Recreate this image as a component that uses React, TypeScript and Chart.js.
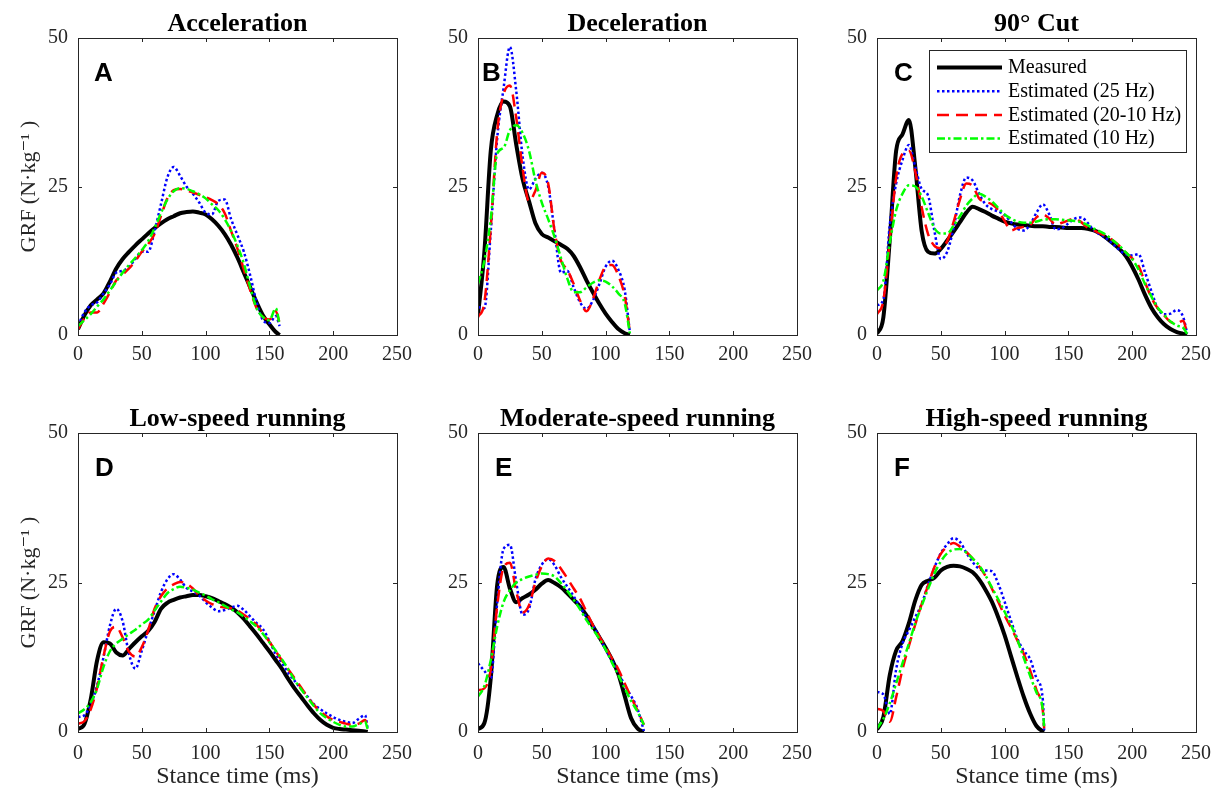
import React, { useEffect, useRef } from "react";
import { Chart, registerables } from "chart.js";

Chart.register(...registerables);

const SERIF = "'Liberation Serif', 'Times New Roman', 'DejaVu Serif', serif";
const SANS = "'Liberation Sans', Arial, sans-serif";
const AXIS = "#262626";

// ---------- Data (stance time in ms, GRF in N/kg) ----------
// A - Acceleration
const timeA = [0, 5, 10, 15, 20, 25, 30, 35, 40, 45, 50, 55, 60, 65, 70, 75, 80, 85, 90, 95, 100, 105, 110, 115, 120, 125, 130, 135, 140, 145, 150, 155, 158];
const measuredA = [1.0, 3.3, 5.0, 6.0, 7.0, 9.0, 11.2, 12.8, 14.0, 15.1, 16.1, 17.1, 18.0, 18.8, 19.5, 20.0, 20.5, 20.7, 20.8, 20.6, 20.3, 19.5, 18.4, 17.0, 15.2, 13.0, 10.5, 8.0, 5.5, 3.3, 1.8, 0.5, 0];
const est25A = [1.6, 3.8, 5.0, 5.5, 7.0, 8.5, 10.5, 10.8, 11.5, 12.8, 14.0, 14.0, 17.5, 22.0, 26.5, 28.3, 26.8, 25.0, 23.8, 22.3, 20.6, 20.3, 22.6, 22.8, 19.5, 16.8, 14.0, 10.0, 5.5, 2.5, 2.0, 3.2, 1.5];
const est2010A = [1.0, 2.8, 3.8, 3.8, 5.3, 7.2, 9.2, 10.2, 11.2, 12.5, 14.0, 15.3, 17.0, 20.0, 23.0, 24.4, 24.6, 24.3, 24.0, 23.6, 23.2, 22.7, 22.0, 20.5, 17.5, 14.5, 11.0, 7.5, 4.5, 3.0, 2.6, 4.0, 2.0];
const est10A = [1.5, 2.5, 3.5, 4.8, 6.0, 7.5, 9.0, 10.5, 11.8, 13.0, 14.3, 15.8, 18.0, 20.5, 22.8, 24.2, 24.7, 24.6, 24.2, 23.7, 23.0, 22.0, 21.0, 19.5, 17.5, 15.0, 12.0, 8.0, 4.5, 3.0, 2.5, 4.5, 1.8];

// B - Deceleration
const timeB = [0, 5, 10, 15, 20, 25, 30, 35, 40, 45, 50, 55, 60, 65, 70, 75, 80, 85, 90, 95, 100, 105, 110, 115, 119];
const measuredB = [3.3, 14.0, 31.0, 37.0, 39.3, 38.5, 32.0, 26.2, 22.5, 18.8, 17.0, 16.4, 15.8, 15.2, 14.5, 13.3, 11.4, 9.2, 7.2, 5.3, 3.6, 2.2, 1.0, 0.3, 0];
const est25B = [4.7, 4.5, 17.5, 33.0, 41.5, 48.5, 41.0, 30.0, 24.5, 26.3, 27.3, 25.0, 17.5, 10.5, 10.8, 8.0, 5.5, 4.4, 5.8, 8.5, 11.5, 12.5, 11.0, 7.5, 0.5];
const est2010B = [3.0, 5.5, 18.0, 34.0, 40.5, 42.0, 36.5, 28.0, 22.5, 24.3, 27.3, 25.5, 17.5, 12.5, 11.0, 8.6, 5.8, 4.0, 6.0, 9.2, 11.5, 11.8, 10.0, 6.5, 0.5];
const est10B = [8.6, 12.5, 19.5, 30.5, 31.5, 34.5, 35.3, 34.0, 31.0, 26.0, 22.3, 19.5, 16.5, 13.0, 9.5, 7.2, 7.2, 8.0, 8.8, 9.2, 9.0, 8.2, 7.0, 5.3, 0.3];

// C - 90° Cut
const timeC = [0, 5, 10, 15, 20, 25, 30, 35, 40, 45, 50, 55, 60, 65, 70, 75, 80, 85, 90, 95, 100, 105, 110, 115, 120, 125, 130, 135, 140, 145, 150, 155, 160, 165, 170, 175, 180, 185, 190, 195, 200, 205, 210, 215, 220, 225, 230, 235, 240, 243];
const measuredC = [0.2, 3.0, 16.0, 31.0, 33.8, 36.2, 28.3, 17.5, 14.0, 13.7, 14.5, 15.9, 17.4, 19.0, 20.6, 21.6, 21.2, 20.7, 20.1, 19.6, 19.1, 18.8, 18.6, 18.5, 18.4, 18.3, 18.3, 18.2, 18.2, 18.1, 18.0, 18.0, 18.0, 17.9, 17.6, 17.1, 16.3, 15.4, 14.5, 13.3, 11.5, 9.3, 6.8, 4.6, 3.0, 1.8, 1.0, 0.5, 0.2, 0];
const est25C = [5.0, 6.0, 18.5, 25.5, 29.5, 32.0, 28.3, 24.6, 23.5, 17.5, 12.8, 14.0, 18.0, 23.5, 26.5, 26.0, 23.8, 22.0, 21.2, 20.8, 20.2, 19.0, 17.9, 17.6, 18.6, 20.6, 22.0, 20.3, 17.8, 18.0, 18.8, 19.6, 19.8, 18.9, 17.6, 16.9, 16.2, 15.3, 14.3, 13.6, 13.4, 13.6, 10.6, 7.4, 4.5, 3.5, 3.6, 4.2, 3.0, 0.3];
const est2010C = [3.5, 5.8, 16.0, 26.5, 30.5, 31.0, 27.5, 21.5, 17.0, 15.0, 14.6, 15.8, 19.0, 22.8, 25.5, 25.1, 23.0, 22.4, 22.0, 21.0, 19.2, 17.6, 18.0, 18.2, 18.5, 19.8, 20.3, 19.6, 18.6, 18.9, 19.3, 19.6, 19.0, 18.1, 17.6, 17.1, 16.6, 15.9, 15.0, 13.9, 12.9, 11.6, 8.9, 6.3, 4.5, 3.3, 2.2, 2.0, 2.4, 0.3];
const est10C = [7.5, 9.1, 15.5, 21.0, 23.8, 25.2, 25.0, 23.3, 20.6, 18.0, 17.1, 17.1, 18.4, 20.0, 21.8, 23.0, 23.8, 23.3, 22.5, 21.4, 20.3, 19.6, 19.1, 18.9, 18.9, 19.1, 19.4, 19.5, 19.5, 19.4, 19.3, 19.2, 19.0, 18.5, 17.9, 17.4, 16.8, 15.9, 15.0, 13.9, 12.8, 11.0, 8.6, 6.5, 4.6, 3.4, 2.3, 1.6, 1.2, 0.2];

// D - Low-speed running
const timeD = [0, 5, 10, 15, 20, 25, 30, 35, 40, 45, 50, 55, 60, 65, 70, 75, 80, 85, 90, 95, 100, 105, 110, 115, 120, 125, 130, 135, 140, 145, 150, 155, 160, 165, 170, 175, 180, 185, 190, 195, 200, 205, 210, 215, 220, 225, 227];
const measuredD = [0.5, 1.3, 5.5, 12.0, 15.0, 14.8, 13.3, 12.8, 13.9, 15.0, 16.0, 16.9, 18.4, 20.6, 21.6, 22.1, 22.5, 22.7, 22.9, 22.9, 22.7, 22.4, 21.9, 21.4, 20.8, 20.0, 18.9, 17.6, 16.3, 14.9, 13.5, 12.0, 10.5, 8.8, 7.2, 5.8, 4.4, 3.1, 2.0, 1.2, 0.7, 0.5, 0.4, 0.3, 0.2, 0.1, 0];
const est25D = [2.5, 2.8, 4.6, 7.8, 12.5, 17.8, 20.6, 18.5, 13.0, 10.6, 13.6, 17.0, 20.2, 23.4, 25.5, 26.4, 25.5, 24.1, 23.5, 22.8, 21.7, 20.8, 20.2, 20.4, 20.8, 21.1, 20.4, 19.3, 18.2, 17.2, 15.2, 13.0, 11.5, 9.8, 8.5, 7.2, 5.9, 4.6, 3.8, 3.1, 2.5, 2.0, 1.7, 1.5, 2.2, 2.8, 0.5];
const est2010D = [1.4, 1.8, 3.8, 7.5, 12.7, 16.8, 17.6, 15.8, 13.4, 12.6, 14.2, 17.0, 20.6, 22.7, 24.0, 24.7, 25.1, 24.8, 24.0, 22.8, 22.0, 21.4, 21.0, 20.8, 20.7, 20.3, 19.6, 18.8, 17.9, 16.5, 15.1, 13.5, 11.9, 10.4, 8.9, 7.4, 5.8, 4.5, 3.4, 2.6, 2.0, 1.7, 1.4, 1.2, 1.4, 2.0, 0.5];
const est10D = [3.1, 3.8, 5.0, 7.3, 10.9, 13.5, 14.8, 15.6, 16.4, 17.1, 18.0, 18.8, 20.3, 21.8, 23.2, 23.9, 24.3, 24.1, 23.8, 23.3, 22.8, 22.2, 21.7, 21.1, 20.5, 20.0, 19.3, 18.5, 17.6, 16.4, 15.0, 13.6, 12.1, 10.4, 8.6, 7.1, 5.7, 4.3, 3.1, 2.3, 1.7, 1.2, 0.9, 0.9, 1.3, 1.7, 0.5];

// E - Moderate-speed running
const timeE = [0, 5, 10, 15, 20, 25, 30, 35, 40, 45, 50, 55, 60, 65, 70, 75, 80, 85, 90, 95, 100, 105, 110, 115, 120, 125, 130];
const measuredE = [0.5, 1.5, 9.0, 24.5, 27.6, 24.0, 21.7, 22.4, 23.0, 23.8, 24.8, 25.4, 24.9, 24.2, 23.2, 22.1, 21.0, 19.5, 17.7, 15.9, 14.1, 12.1, 9.7, 6.0, 2.3, 0.6, 0];
const est25E = [11.5, 10.2, 9.0, 21.5, 30.6, 31.3, 25.0, 19.6, 20.6, 25.5, 28.0, 28.9, 27.9, 25.9, 24.3, 22.7, 20.9, 19.2, 17.8, 16.0, 13.8, 12.0, 10.0, 7.8, 6.0, 3.9, 0.2];
const est2010E = [7.0, 7.3, 10.5, 21.0, 27.5, 28.3, 23.5, 20.0, 21.2, 25.0, 27.7, 29.0, 28.6, 27.3, 25.7, 24.0, 22.3, 20.1, 17.9, 16.0, 14.2, 12.3, 10.5, 8.1, 5.8, 3.6, 1.2];
const est10E = [5.9, 7.7, 12.0, 17.6, 21.7, 23.7, 25.0, 25.6, 26.0, 26.3, 26.5, 26.4, 26.0, 24.9, 23.6, 22.1, 20.5, 18.7, 17.2, 15.6, 13.8, 11.6, 9.5, 7.3, 5.2, 3.4, 1.2];

// F - High-speed running
const timeF = [0, 5, 10, 15, 20, 25, 30, 35, 40, 45, 50, 55, 60, 65, 70, 75, 80, 85, 90, 95, 100, 105, 110, 115, 120, 125, 130, 131];
const measuredF = [0.4, 2.5, 9.5, 13.6, 15.2, 18.2, 22.0, 24.6, 25.3, 25.8, 27.0, 27.6, 27.8, 27.7, 27.3, 26.7, 25.5, 23.8, 21.8, 19.2, 16.2, 12.7, 9.2, 5.9, 3.1, 1.0, 0.1, 0];
const est25F = [6.7, 6.3, 3.0, 10.5, 14.8, 17.0, 19.2, 21.4, 24.6, 27.5, 29.9, 31.4, 32.4, 31.8, 30.0, 28.4, 27.3, 27.0, 26.9, 24.8, 21.8, 18.6, 15.6, 13.6, 12.2, 9.0, 5.3, 0.3];
const est2010F = [3.9, 3.5, 1.7, 5.8, 10.5, 14.4, 18.0, 21.4, 24.5, 27.6, 29.8, 31.0, 31.6, 31.0, 30.1, 29.0, 27.7, 26.1, 24.0, 21.8, 19.5, 17.5, 15.3, 13.1, 10.3, 7.0, 3.5, 0.6];
const est10F = [0.6, 2.2, 4.8, 8.1, 11.5, 14.8, 18.2, 21.1, 23.9, 26.5, 28.5, 29.9, 30.5, 30.6, 30.0, 29.0, 27.9, 26.2, 24.2, 22.2, 20.1, 17.9, 15.4, 12.4, 9.4, 6.6, 3.7, 0.6];

// Axis ticks and labels
const xTicks = [0, 50, 100, 150, 200, 250];
const yTicks = [0, 25, 50];
const seriesLabels = ["Measured", "Estimated (25 Hz)", "Estimated (20-10 Hz)", "Estimated (10 Hz)"];
const X_TITLE = "Stance time (ms)";
const Y_TITLE = "GRF (N·kg⁻¹ )";

// ---------- Styles ----------
const seriesStyles = [
  { color: "#000000", width: 4, dash: [] as number[] },
  { color: "#0000FF", width: 2.5, dash: [2.5, 2.5] },
  { color: "#FF0000", width: 2.5, dash: [12, 7] },
  { color: "#00FF00", width: 2.5, dash: [8, 3, 2.5, 3] },
];

const PLOT_W = 319;
const MARGIN_L = 78;
const MARGIN_R = 78;
const TITLE_H = 38;

type PanelDef = {
  title: string;
  letter: string;
  letterDx: number;
  time: number[];
  series: number[][];
  plotLeft: number;
  plotTop: number;
  plotH: number;
  bottomRow: boolean;
  leftCol: boolean;
  legend: boolean;
};

const panels: PanelDef[] = [
  { title: "Acceleration", letter: "A", letterDx: 16, time: timeA, series: [measuredA, est25A, est2010A, est10A], plotLeft: 78, plotTop: 38, plotH: 297, bottomRow: false, leftCol: true, legend: false },
  { title: "Deceleration", letter: "B", letterDx: 4, time: timeB, series: [measuredB, est25B, est2010B, est10B], plotLeft: 478, plotTop: 38, plotH: 297, bottomRow: false, leftCol: false, legend: false },
  { title: "90° Cut", letter: "C", letterDx: 17, time: timeC, series: [measuredC, est25C, est2010C, est10C], plotLeft: 877, plotTop: 38, plotH: 297, bottomRow: false, leftCol: false, legend: true },
  { title: "Low-speed running", letter: "D", letterDx: 17, time: timeD, series: [measuredD, est25D, est2010D, est10D], plotLeft: 78, plotTop: 433, plotH: 299, bottomRow: true, leftCol: true, legend: false },
  { title: "Moderate-speed running", letter: "E", letterDx: 17, time: timeE, series: [measuredE, est25E, est2010E, est10E], plotLeft: 478, plotTop: 433, plotH: 299, bottomRow: true, leftCol: false, legend: false },
  { title: "High-speed running", letter: "F", letterDx: 17, time: timeF, series: [measuredF, est25F, est2010F, est10F], plotLeft: 877, plotTop: 433, plotH: 299, bottomRow: true, leftCol: false, legend: false },
];

function makeDecor(p: PanelDef) {
  return {
    id: "decor" + p.letter,
    afterDatasetsDraw(chart: any) {
      const { ctx, chartArea, scales } = chart;
      const { left, right, top, bottom } = chartArea;
      ctx.save();
      ctx.strokeStyle = AXIS;
      ctx.lineWidth = 1;
      ctx.setLineDash([]);
      ctx.strokeRect(left + 0.5, top + 0.5, right - left, bottom - top);
      ctx.beginPath();
      const tl = 4;
      for (const v of xTicks) {
        const px = Math.round(scales.x.getPixelForValue(v)) + 0.5;
        ctx.moveTo(px, bottom);
        ctx.lineTo(px, bottom - tl);
        ctx.moveTo(px, top);
        ctx.lineTo(px, top + tl);
      }
      for (const v of yTicks) {
        const py = Math.round(scales.y.getPixelForValue(v)) + 0.5;
        ctx.moveTo(left, py);
        ctx.lineTo(left + tl, py);
        ctx.moveTo(right, py);
        ctx.lineTo(right - tl, py);
      }
      ctx.stroke();
      ctx.restore();
    },
    afterDraw(chart: any) {
      const { ctx, chartArea } = chart;
      const { left, top } = chartArea;
      ctx.save();
      ctx.fillStyle = "#000";
      ctx.font = `bold 26px ${SANS}`;
      ctx.textBaseline = "alphabetic";
      ctx.textAlign = "left";
      ctx.fillText(p.letter, left + p.letterDx, top + 43);
      if (p.legend) {
        const bx = left + 52;
        const by = top + 12;
        const bw = 257;
        const bh = 102;
        ctx.fillStyle = "#fff";
        ctx.fillRect(bx, by, bw, bh);
        ctx.strokeStyle = AXIS;
        ctx.lineWidth = 1;
        ctx.strokeRect(bx + 0.5, by + 0.5, bw, bh);
        chart.data.datasets.forEach((ds: any, i: number) => {
          const yy = top + 29.5 + i * 23.7;
          ctx.beginPath();
          ctx.strokeStyle = ds.borderColor;
          ctx.lineWidth = ds.borderWidth;
          ctx.setLineDash(ds.borderDash || []);
          ctx.moveTo(left + 60, yy);
          ctx.lineTo(left + 125, yy);
          ctx.stroke();
          ctx.setLineDash([]);
          ctx.fillStyle = "#000";
          ctx.font = `20px ${SERIF}`;
          ctx.textBaseline = "middle";
          ctx.fillText(ds.label, left + 131, yy + 0.5);
        });
      }
      ctx.restore();
    },
  };
}

function PanelChart({ p }: { p: PanelDef }) {
  const ref = useRef<HTMLCanvasElement>(null);
  const xh = p.bottomRow ? 64 : 32;
  const W = MARGIN_L + PLOT_W + MARGIN_R;
  const H = TITLE_H + p.plotH + xh;

  useEffect(() => {
    if (!ref.current) return;
    const datasets = p.series.map((vals, i) => ({
      label: seriesLabels[i],
      data: p.time.map((t, k) => ({ x: t, y: vals[k] })),
      borderColor: seriesStyles[i].color,
      borderWidth: seriesStyles[i].width,
      borderDash: seriesStyles[i].dash,
      pointRadius: 0,
      fill: false,
      cubicInterpolationMode: "monotone" as const,
      order: 4 - i,
    }));
    const chart = new Chart(ref.current, {
      type: "line",
      data: { datasets },
      plugins: [makeDecor(p)],
      options: {
        responsive: false,
        animation: false,
        devicePixelRatio: 1,
        layout: { padding: 0 },
        events: [],
        plugins: {
          legend: { display: false },
          tooltip: { enabled: false },
          title: {
            display: true,
            text: p.title,
            color: "#000",
            font: { family: SERIF, size: 26, weight: "bold", lineHeight: 1 },
            padding: { top: 11, bottom: 1 },
          },
        },
        scales: {
          x: {
            type: "linear",
            position: "bottom",
            min: 0,
            max: 250,
            grid: { display: false, drawTicks: false },
            border: { display: false },
            ticks: {
              stepSize: 50,
              autoSkip: false,
              maxRotation: 0,
              padding: p.bottomRow ? 10 : 8,
              color: AXIS,
              font: { family: SERIF, size: 20 },
            },
            title: {
              display: p.bottomRow,
              text: X_TITLE,
              color: AXIS,
              font: { family: SERIF, size: 24, lineHeight: 1 },
              padding: { top: 0, bottom: 7 },
            },
            afterFit: (s: any) => {
              s.height = xh;
            },
          },
          y: {
            type: "linear",
            position: "left",
            min: 0,
            max: 50,
            grid: { display: false, drawTicks: false },
            border: { display: false },
            ticks: {
              stepSize: 25,
              padding: 10,
              color: AXIS,
              font: { family: SERIF, size: 20 },
            },
            title: {
              display: p.leftCol,
              text: Y_TITLE,
              color: AXIS,
              font: { family: SERIF, size: 22, lineHeight: 1 },
              padding: { top: 18.5, bottom: 0 },
            },
            afterFit: (s: any) => {
              s.width = MARGIN_L;
            },
          },
          yr: {
            type: "linear",
            position: "right",
            min: 0,
            max: 50,
            grid: { display: false, drawTicks: false },
            border: { display: false },
            ticks: { display: false },
            afterFit: (s: any) => {
              s.width = MARGIN_R;
            },
          },
        },
      } as any,
    });
    return () => chart.destroy();
  }, []);

  return (
    <canvas
      ref={ref}
      width={W}
      height={H}
      style={{
        position: "absolute",
        left: p.plotLeft - MARGIN_L,
        top: p.plotTop - TITLE_H,
        width: W,
        height: H,
      }}
    />
  );
}

export default function App() {
  return (
    <div
      style={{
        position: "absolute",
        left: 0,
        top: 0,
        width: 1222,
        height: 796,
        overflow: "hidden",
        background: "#ffffff",
      }}
    >
      {panels.map((p) => (
        <PanelChart key={p.letter} p={p} />
      ))}
    </div>
  );
}
